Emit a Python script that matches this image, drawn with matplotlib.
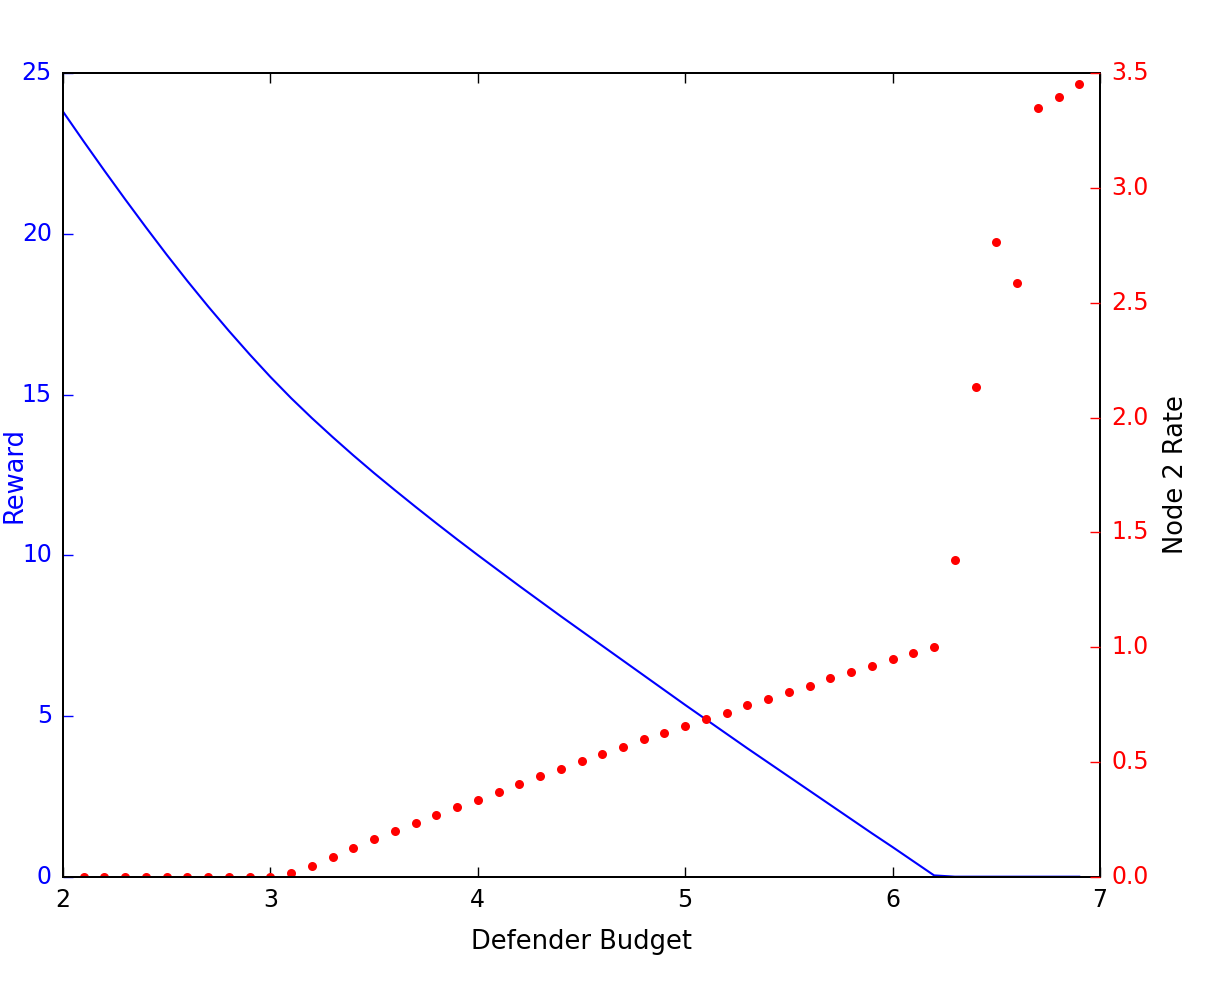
import matplotlib
matplotlib.use("Agg")
import matplotlib.pyplot as plt

plt.style.use("classic")

budget_line = [2.0, 2.1, 2.2, 2.3, 2.4, 2.5, 2.6, 2.7, 2.8, 2.9,
               3.0, 3.1, 3.2, 3.3, 3.4, 3.5, 3.6, 3.7, 3.8, 3.9,
               4.0, 4.1, 4.2, 4.3, 4.4, 4.5, 4.6, 4.7, 4.8, 4.9,
               5.0, 5.1, 5.2, 5.3, 5.4, 5.5, 5.6, 5.7, 5.8, 5.9,
               6.0, 6.1, 6.2, 6.3, 6.4, 6.5, 6.6, 6.7, 6.8, 6.9]
reward = [23.80, 22.87, 21.96, 21.07, 20.20, 19.35, 18.53, 17.74, 16.98, 16.25,
          15.55, 14.89, 14.27, 13.68, 13.11, 12.56, 12.03, 11.51, 11.00, 10.50,
          10.01, 9.53, 9.05, 8.58, 8.11, 7.65, 7.19, 6.73, 6.27, 5.81,
          5.35, 4.90, 4.45, 4.00, 3.56, 3.12, 2.68, 2.24, 1.80, 1.36,
          0.93, 0.49, 0.05, 0.01, 0.01, 0.01, 0.01, 0.01, 0.01, 0.01]

budget_pts = [2.1, 2.2, 2.3, 2.4, 2.5, 2.6, 2.7, 2.8, 2.9,
              3.0, 3.1, 3.2, 3.3, 3.4, 3.5, 3.6, 3.7, 3.8, 3.9,
              4.0, 4.1, 4.2, 4.3, 4.4, 4.5, 4.6, 4.7, 4.8, 4.9,
              5.0, 5.1, 5.2, 5.3, 5.4, 5.5, 5.6, 5.7, 5.8, 5.9,
              6.0, 6.1, 6.2, 6.3, 6.4, 6.5, 6.6, 6.7, 6.8, 6.9]
node2_rate = [0.0, 0.0, 0.0, 0.0, 0.0, 0.0, 0.0, 0.0, 0.0,
              0.0, 0.017, 0.049, 0.088, 0.125, 0.164, 0.200, 0.234, 0.270, 0.303,
              0.337, 0.371, 0.405, 0.440, 0.472, 0.504, 0.536, 0.565, 0.600, 0.626,
              0.659, 0.688, 0.714, 0.748, 0.776, 0.804, 0.830, 0.865, 0.892, 0.920,
              0.948, 0.974, 1.002, 1.380, 2.133, 2.764, 2.586, 3.346, 3.396, 3.451]

x_ticks = [2, 3, 4, 5, 6, 7]
left_ticks = [0, 5, 10, 15, 20, 25]
right_ticks = [0.0, 0.5, 1.0, 1.5, 2.0, 2.5, 3.0, 3.5]

FS = 17
LFS = 18.5
fig = plt.figure(figsize=(12.22, 9.83), dpi=100, facecolor="white")
ax = fig.add_axes([63 / 1222, 1 - 877 / 983, (1100 - 63) / 1222, (877 - 73) / 983])
ax2 = ax.twinx()

ax.plot(budget_line, reward, color="b", linewidth=1.5)
ax2.plot(budget_pts, node2_rate, linestyle="none", marker="o", markersize=6.5,
         markeredgewidth=0, color="r")

ax.set_xlim(2, 7)
ax.set_ylim(0, 25)
ax2.set_ylim(0, 3.5)
ax.set_xticks(x_ticks)
ax.set_yticks(left_ticks)
ax2.set_yticks(right_ticks)
ax.set_xticklabels([str(v) for v in x_ticks])
ax.set_yticklabels([str(v) for v in left_ticks])
ax2.set_yticklabels([f"{v:.1f}" for v in right_ticks])

for a in (ax, ax2):
    for s in a.spines.values():
        s.set_linewidth(1.4)
ax.tick_params(axis="x", which="major", direction="in", length=7, width=1,
               labelsize=FS, pad=8, top=True, colors="black")
ax.tick_params(axis="y", which="major", direction="in", length=7, width=1,
               labelsize=FS, pad=8, colors="b")
ax2.tick_params(axis="y", which="major", direction="in", length=7, width=1,
                labelsize=FS, pad=8, colors="r")
ax.xaxis.set_ticks_position("both")

ax.set_xlabel("Defender Budget", fontsize=LFS, labelpad=12)
ax2.set_ylabel("Node 2 Rate", fontsize=LFS, color="black", labelpad=10)
# left label sits at the very edge of the canvas, as in the reference
ax.set_ylabel("Reward", fontsize=LFS, color="b")
ax.yaxis.set_label_coords(-35 / 1037, 0.5)

fig.savefig("out.png", dpi=100, facecolor="white")
